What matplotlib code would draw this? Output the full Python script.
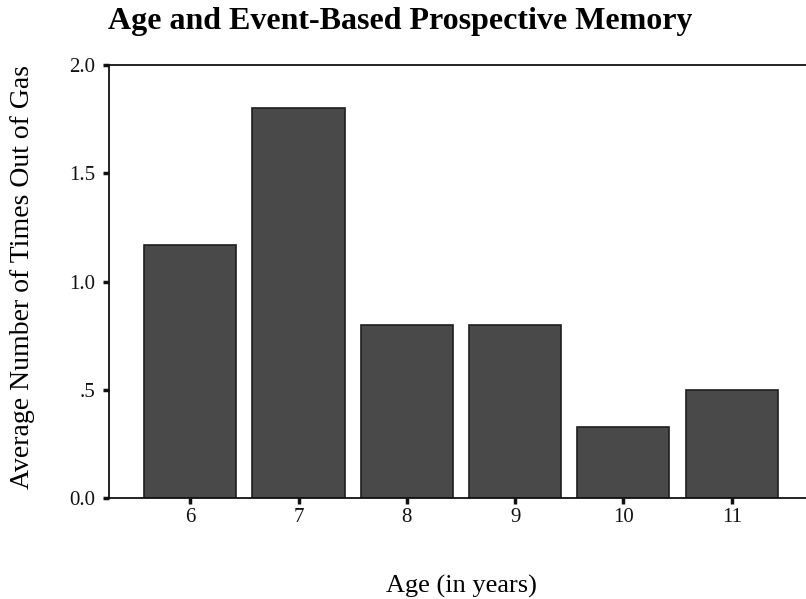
import matplotlib
matplotlib.use("Agg")
import matplotlib.pyplot as plt

# ===== chart data =====
ages = ["6", "7", "8", "9", "10", "11"]
avg_out_of_gas = [1.17, 1.80, 0.80, 0.80, 0.33, 0.50]
y_ticks = [0.0, 0.5, 1.0, 1.5, 2.0]
y_tick_labels = ["0.0", ".5", "1.0", "1.5", "2.0"]
# ======================

plt.rcParams["font.family"] = ["Liberation Serif", "DejaVu Serif"]

fig = plt.figure(figsize=(8.06, 5.99), dpi=100)
fig.patch.set_facecolor("white")
# axes run off the right edge, as in the scanned original
ax = fig.add_axes([0.1352, 0.1686, 0.8735, 0.7229])

pos = list(range(len(ages)))
ax.bar(pos, avg_out_of_gas, width=0.85, color="#494949",
       edgecolor="#1e1e1e", linewidth=1.2, zorder=2)

ax.set_xlim(-0.75, len(ages) - 0.25)
ax.set_ylim(0, 2.0)
ax.set_xticks(pos)
ax.set_xticklabels(ages)
ax.set_yticks(y_ticks)
ax.set_yticklabels(y_tick_labels)
ax.tick_params(axis="both", direction="out", length=4, width=2.5,
               labelsize=15, colors="#111111")
ax.tick_params(axis="y", pad=6)
ax.tick_params(axis="x", pad=3)

for spine in ax.spines.values():
    spine.set_edgecolor("#111111")
    spine.set_linewidth(1.3)
ax.spines["right"].set_visible(False)

ax.set_ylabel("Average Number of Times Out of Gas", fontsize=20)
ax.yaxis.set_label_coords(-0.105, 0.51)
ax.set_xlabel("Age (in years)", fontsize=19, labelpad=35)

fig.text(0.497, 0.9516, "Age and Event-Based Prospective Memory",
         fontsize=23, fontweight="bold", ha="center", va="baseline")

fig.savefig("out.png", dpi=100, facecolor="white")
plt.close(fig)
